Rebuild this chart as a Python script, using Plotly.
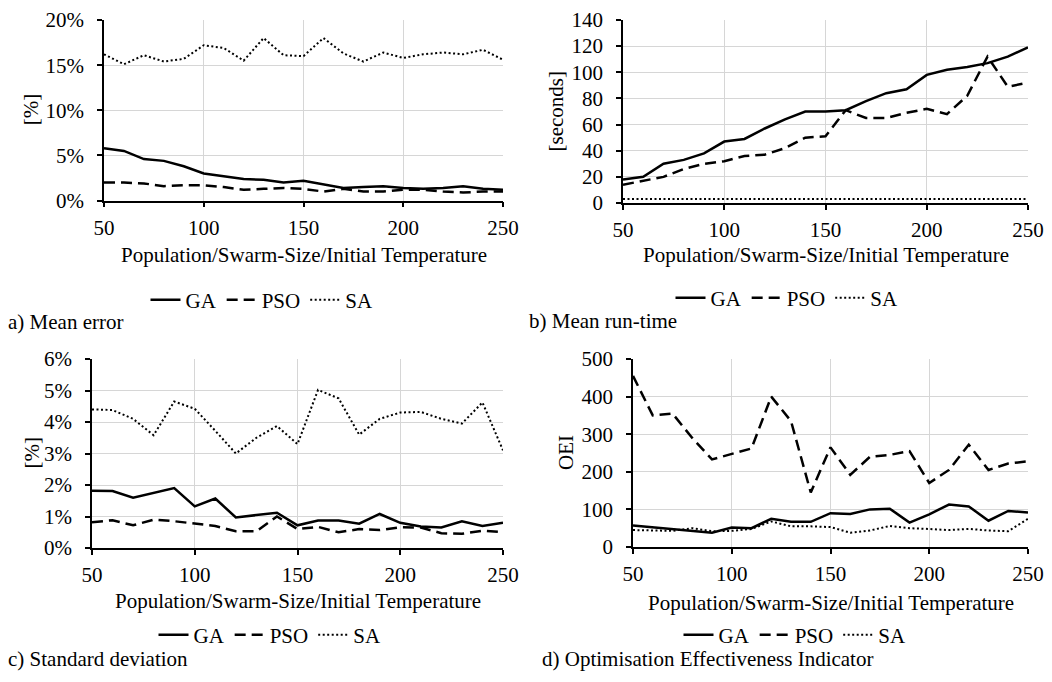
import plotly.graph_objects as go

x_vals = [50, 60, 70, 80, 90, 100, 110, 120, 130, 140, 150, 160, 170, 180, 190, 200, 210, 220, 230, 240, 250]

# a) Mean error [%]
err_ga = [5.8, 5.5, 4.6, 4.4, 3.8, 3.0, 2.7, 2.4, 2.3, 2.0, 2.2, 1.8, 1.4, 1.5, 1.6, 1.4, 1.3, 1.4, 1.6, 1.3, 1.2]
err_pso = [2.0, 2.0, 1.9, 1.6, 1.7, 1.7, 1.5, 1.2, 1.3, 1.4, 1.3, 1.0, 1.3, 1.0, 1.0, 1.2, 1.2, 1.0, 0.9, 1.0, 1.0]
err_sa = [16.2, 15.1, 16.1, 15.4, 15.7, 17.2, 16.9, 15.5, 18.0, 16.1, 16.0, 18.0, 16.3, 15.4, 16.4, 15.8, 16.2, 16.4, 16.2, 16.7, 15.6]

# b) Mean run-time [seconds]
rt_ga = [18, 20, 30, 33, 38, 47, 49, 57, 64, 70, 70, 71, 78, 84, 87, 98, 102, 104, 107, 112, 119]
rt_pso = [14, 17, 20, 26, 30, 32, 36, 37, 42, 50, 51, 71, 65, 65, 69, 72, 68, 82, 112, 89, 92]
rt_sa = [3, 3, 3.2, 3.2, 3, 3, 3, 3, 3, 3, 3.2, 3.2, 3, 3, 3, 3, 3, 3, 3.2, 3.2, 3]

# c) Standard deviation [%]
sd_ga = [1.82, 1.81, 1.6, 1.75, 1.9, 1.32, 1.57, 0.97, 1.05, 1.12, 0.72, 0.87, 0.87, 0.77, 1.08, 0.8, 0.68, 0.65, 0.85, 0.7, 0.8]
sd_pso = [0.82, 0.88, 0.72, 0.9, 0.85, 0.77, 0.7, 0.53, 0.53, 1.0, 0.6, 0.67, 0.5, 0.6, 0.57, 0.66, 0.65, 0.47, 0.45, 0.55, 0.5]
sd_sa = [4.4, 4.38, 4.1, 3.58, 4.65, 4.42, 3.72, 3.0, 3.5, 3.87, 3.3, 5.02, 4.75, 3.6, 4.1, 4.3, 4.32, 4.1, 3.95, 4.62, 3.1]

# d) Optimisation Effectiveness Indicator
oei_ga = [57, 52, 47, 43, 38, 52, 50, 75, 67, 67, 90, 88, 100, 102, 65, 87, 113, 108, 70, 96, 92]
oei_pso = [455, 350, 355, 290, 233, 248, 262, 400, 335, 145, 265, 192, 240, 245, 255, 170, 205, 272, 205, 222, 228]
oei_sa = [45, 45, 43, 50, 42, 43, 48, 68, 55, 55, 53, 38, 44, 56, 50, 48, 45, 48, 44, 42, 75]

series_names = ["GA", "PSO", "SA"]
x_ticks = [50, 100, 150, 200, 250]
x_title = "Population/Swarm-Size/Initial Temperature"
captions = ["a) Mean error", "b) Mean run-time", "c) Standard deviation", "d) Optimisation Effectiveness Indicator"]
y_titles = ["[%]", "[seconds]", "[%]", "OEI"]

# page is 1052x682; the html body has an 8px margin around the figure
PAGE_W, PAGE_H, OFF = 1052, 682, 8
W, H = PAGE_W - 2 * OFF, PAGE_H - 2 * OFF
FONT = "Liberation Serif"
FS = 21

def px(v):
    return (v - OFF) / W

def py(v):
    return 1 - (v - OFF) / H

# panel geometry in page pixels: (left, right, top, bottom)
panels = [
    (104, 503, 20, 200.6),
    (623, 1028, 20, 203),
    (92, 503, 359, 548),
    (633, 1028, 359, 547),
]
styles = [
    dict(color="black", width=2.5, dash="solid"),
    dict(color="black", width=2.5, dash="11px,6px"),
    dict(color="black", width=2, dash="2px,2.5px"),
]
data_sets = [
    (err_ga, err_pso, err_sa),
    (rt_ga, rt_pso, rt_sa),
    (sd_ga, sd_pso, sd_sa),
    (oei_ga, oei_pso, oei_sa),
]
y_cfg = [
    dict(range=[0, 20], dtick=5, ticksuffix="%"),
    dict(range=[0, 140], dtick=20, ticksuffix=""),
    dict(range=[0, 6], dtick=1, ticksuffix="%"),
    dict(range=[0, 500], dtick=100, ticksuffix=""),
]
legend_pos = [(262, 300), (787, 298), (270, 635), (795, 635)]
caption_pos = [(6, 322), (527, 321), (6, 659), (540, 659)]
xtitle_y = [255, 255, 601, 603]
ytitle_x = [31, 556, 31, 566]

fig = go.Figure()
layout = dict(
    width=W, height=H,
    margin=dict(l=0, r=0, t=0, b=0, pad=0, autoexpand=False),
    paper_bgcolor="white", plot_bgcolor="white",
    font=dict(family=FONT, size=FS, color="black"),
    annotations=[],
)

for i in range(4):
    n = "" if i == 0 else str(i + 1)
    lg = "legend" if i == 0 else "legend" + str(i + 1)
    for s, (vals, name) in enumerate(zip(data_sets[i], series_names)):
        fig.add_trace(go.Scatter(
            x=x_vals, y=vals, mode="lines", name=name,
            line=styles[s], xaxis="x" + n, yaxis="y" + n,
            legend=lg, showlegend=True, hoverinfo="skip",
        ))
    l, r, t, b = panels[i]
    layout["xaxis" + n] = dict(
        domain=[px(l), px(r)], anchor="y" + n, range=[50, 250],
        tickvals=x_ticks, showgrid=True, gridcolor="#d6d6d6", gridwidth=1.2,
        showline=True, linecolor="black", linewidth=1.5,
        ticks="outside", ticklen=5, tickcolor="black", tickwidth=1.5,
        zeroline=False, ticklabelstandoff=2, automargin=False,
        ticklabeloverflow="allow",
        tickfont=dict(family=FONT, size=FS, color="black"),
    )
    yc = y_cfg[i]
    layout["yaxis" + n] = dict(
        domain=[py(b), py(t)], anchor="x" + n, range=yc["range"],
        dtick=yc["dtick"], tick0=0, ticksuffix=yc["ticksuffix"],
        showgrid=True, gridcolor="#d6d6d6", gridwidth=1.2,
        showline=True, linecolor="black", linewidth=1.5,
        ticks="outside", ticklen=5, tickcolor="black", tickwidth=1.5,
        zeroline=False, ticklabelstandoff=9, automargin=False,
        ticklabeloverflow="allow",
        tickfont=dict(family=FONT, size=FS, color="black"),
    )
    lx, ly = legend_pos[i]
    layout[lg] = dict(
        orientation="h", x=px(lx), y=py(ly), xanchor="center", yanchor="middle",
        font=dict(family=FONT, size=FS, color="black"), itemwidth=30,
        bgcolor="rgba(0,0,0,0)", traceorder="normal",
    )
    layout["annotations"].append(dict(
        text=x_title, x=px((l + r) / 2), y=py(xtitle_y[i]), xref="paper", yref="paper",
        xanchor="center", yanchor="middle", showarrow=False,
        font=dict(family=FONT, size=FS, color="black"),
    ))
    layout["annotations"].append(dict(
        text=y_titles[i], x=px(ytitle_x[i]), y=py((t + b) / 2), xref="paper", yref="paper",
        xanchor="center", yanchor="middle", showarrow=False, textangle=-90,
        font=dict(family=FONT, size=FS, color="black"),
    ))
    cx, cy = caption_pos[i]
    layout["annotations"].append(dict(
        text=captions[i], x=px(cx), y=py(cy), xref="paper", yref="paper",
        xanchor="left", yanchor="middle", showarrow=False,
        font=dict(family=FONT, size=FS, color="black"),
    ))

fig.update_layout(**layout)
fig.write_html("out.html")
